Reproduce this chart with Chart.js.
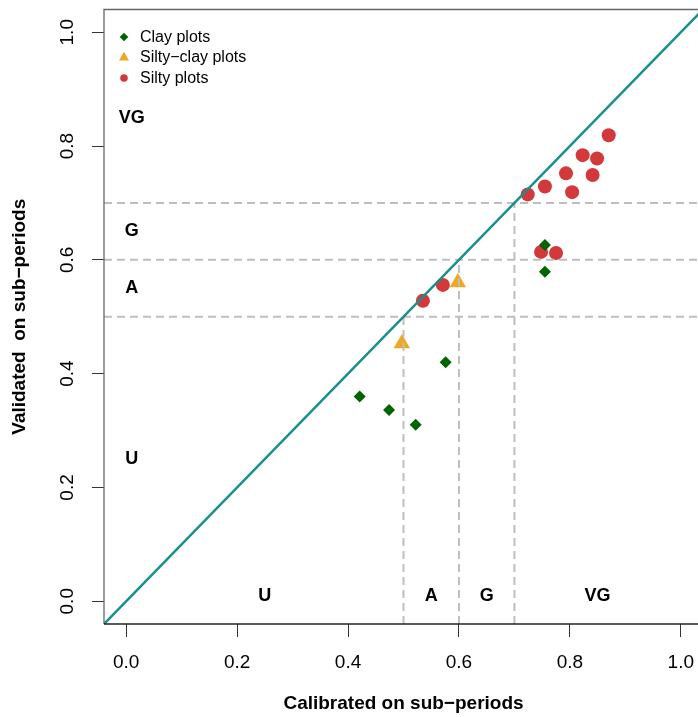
<!DOCTYPE html>
<html>
<head>
<meta charset="utf-8">
<script src="https://cdn.jsdelivr.net/npm/chart.js@4/dist/chart.umd.min.js"></script>
<style>
  html, body { margin: 0; padding: 0; overflow: hidden; background: #fff; }
  #wrap { width: 720px; height: 717px; }
</style>
</head>
<body>
<div id="wrap"><canvas id="myChart" width="720" height="717"></canvas></div>
<script>
// point data
const clayX = [0.421, 0.474, 0.522, 0.576, 0.755, 0.755];
const clayY = [0.360, 0.336, 0.310, 0.420, 0.626, 0.579];

const siltyClayX = [0.497, 0.598];
const siltyClayY = [0.453, 0.560];

const siltyX = [0.535, 0.571, 0.724, 0.755, 0.793, 0.804, 0.823, 0.849, 0.841, 0.870, 0.748, 0.775];
const siltyY = [0.528, 0.556, 0.715, 0.729, 0.752, 0.719, 0.784, 0.778, 0.749, 0.819, 0.614, 0.612];

// class thresholds and labels
const thresholds = [0.5, 0.6, 0.7];
const zoneNames = ["U", "A", "G", "VG"];
const zoneCenters = [0.25, 0.55, 0.65, 0.85];

const xTicks = [0, 0.2, 0.4, 0.6, 0.8, 1.0];
const yTicks = [0, 0.2, 0.4, 0.6, 0.8, 1.0];
const axisMin = -0.04;
const axisMax = 1.04;

const legendLabels = ["Clay plots", "Silty\u2212clay plots", "Silty plots"];

const FONT = "'Liberation Sans', Arial, sans-serif";
const GREEN = "#006400";
const ORANGE = "#EDA824";
const RED = "#D3383B";
const TEAL = "#17908C";
const DASH = "#BEBEBE";

const toPoints = (xs, ys) => xs.map((x, i) => ({ x: x, y: ys[i] }));

let datasets = [];

datasets.push({
  label: legendLabels[0],
  data: toPoints(clayX, clayY),
  pointStyle: "rectRot",
  pointRadius: 6,
  pointBackgroundColor: GREEN,
  pointBorderWidth: 0,
  order: 3,
});
datasets.push({
  label: legendLabels[1],
  data: toPoints(siltyClayX, siltyClayY),
  pointStyle: "triangle",
  pointRadius: 9.5,
  pointBackgroundColor: ORANGE,
  pointBorderWidth: 0,
  order: 3,
});
datasets.push({
  label: legendLabels[2],
  data: toPoints(siltyX, siltyY),
  pointStyle: "circle",
  pointRadius: 7,
  pointBackgroundColor: RED,
  pointBorderWidth: 0,
  order: 3,
});

// dashed threshold lines: horizontal across, vertical up to the 1:1 line
thresholds.forEach((t) => {
  datasets.push({
    label: "h" + t,
    data: [{ x: axisMin, y: t }, { x: axisMax, y: t }],
    showLine: true,
    pointRadius: 0,
    borderColor: DASH,
    borderWidth: 2,
    borderDash: [8, 5],
    order: 2,
  });
  datasets.push({
    label: "v" + t,
    data: [{ x: t, y: axisMin }, { x: t, y: t }],
    showLine: true,
    pointRadius: 0,
    borderColor: DASH,
    borderWidth: 2,
    borderDash: [8, 5],
    order: 2,
  });
});

// 1:1 line
datasets.push({
  label: "1:1",
  data: [{ x: axisMin, y: axisMin }, { x: axisMax, y: axisMax }],
  showLine: true,
  pointRadius: 0,
  borderColor: TEAL,
  borderWidth: 2.5,
  order: 1,
});

const framePlugin = {
  id: "frame",
  afterDraw(chart) {
    const ctx = chart.ctx;
    const { left, right, top, bottom } = chart.chartArea;
    ctx.save();
    ctx.lineWidth = 1.3;
    ctx.strokeStyle = "#666";
    ctx.beginPath();
    ctx.moveTo(right, top);
    ctx.lineTo(left, top);
    ctx.lineTo(left, bottom);
    ctx.stroke();
    ctx.strokeStyle = "#222";
    ctx.beginPath();
    ctx.moveTo(left, bottom);
    ctx.lineTo(right, bottom);
    ctx.stroke();
    ctx.restore();
  },
};

const zonePlugin = {
  id: "zones",
  afterDraw(chart) {
    const ctx = chart.ctx;
    const xs = chart.scales.x;
    const ys = chart.scales.y;
    ctx.save();
    ctx.fillStyle = "#000";
    ctx.font = "bold 18px " + FONT;
    ctx.textAlign = "center";
    ctx.textBaseline = "middle";
    zoneNames.forEach((name, i) => {
      // along the left edge (validated classes)
      ctx.fillText(name, xs.getPixelForValue(0.01), ys.getPixelForValue(zoneCenters[i]));
      // along the bottom edge (calibrated classes)
      ctx.fillText(name, xs.getPixelForValue(zoneCenters[i]), ys.getPixelForValue(0.01));
    });
    ctx.restore();
  },
};

const legendPlugin = {
  id: "cornerLegend",
  afterDraw(chart) {
    const ctx = chart.ctx;
    const { left, top } = chart.chartArea;
    const colors = [GREEN, ORANGE, RED];
    ctx.save();
    legendLabels.forEach((lab, i) => {
      const x = left + 20;
      const y = top + 27.5 + i * 20.5;
      ctx.fillStyle = colors[i];
      ctx.beginPath();
      if (i === 0) {
        ctx.moveTo(x, y - 4.3);
        ctx.lineTo(x + 4.3, y);
        ctx.lineTo(x, y + 4.3);
        ctx.lineTo(x - 4.3, y);
      } else if (i === 1) {
        ctx.moveTo(x, y - 5.8);
        ctx.lineTo(x + 5, y + 2.9);
        ctx.lineTo(x - 5, y + 2.9);
      } else {
        ctx.arc(x, y, 3.8, 0, Math.PI * 2);
      }
      ctx.closePath();
      ctx.fill();
      ctx.fillStyle = "#000";
      ctx.font = "16px " + FONT;
      ctx.textAlign = "left";
      ctx.textBaseline = "middle";
      ctx.fillText(lab, x + 16, y + 0.5);
    });
    ctx.restore();
  },
};

let ctx = document.getElementById("myChart").getContext("2d");

window.myChart = new Chart(ctx, {
  type: "scatter",
  data: { datasets: datasets },
  plugins: [framePlugin, zonePlugin, legendPlugin],
  options: {
    responsive: false,
    animation: false,
    layout: { padding: { top: 7, right: 17, left: 0, bottom: 0 } },
    plugins: {
      legend: { display: false },
      tooltip: { enabled: false },
    },
    scales: {
      x: {
        type: "linear",
        min: axisMin,
        max: axisMax,
        afterBuildTicks: (scale) => {
          scale.ticks = xTicks.map((v) => ({ value: v }));
        },
        afterFit: (scale) => {
          scale.height = 93;
          scale.paddingLeft = 0;
          scale.paddingRight = 0;
        },
        grid: {
          drawOnChartArea: false,
          drawTicks: true,
          tickLength: 13,
          tickColor: "#333",
          lineWidth: 1,
        },
        border: { display: false },
        ticks: {
          color: "#000",
          padding: 14,
          maxRotation: 0,
          font: { family: FONT, size: 19 },
          callback: (v) => Number(v).toFixed(1),
        },
        title: {
          display: true,
          text: "Calibrated on sub\u2212periods",
          color: "#000",
          padding: { top: 0, bottom: 2 },
          font: { family: FONT, size: 19, weight: "bold" },
        },
      },
      y: {
        type: "linear",
        min: axisMin,
        max: axisMax,
        afterBuildTicks: (scale) => {
          scale.ticks = yTicks.map((v) => ({ value: v }));
        },
        afterFit: (scale) => {
          scale.width = 104;
          scale.paddingTop = 0;
          scale.paddingBottom = 0;
        },
        grid: {
          drawOnChartArea: false,
          drawTicks: true,
          tickLength: 12,
          tickColor: "#333",
          lineWidth: 1,
        },
        border: { display: false },
        ticks: {
          color: "#000",
          padding: 11,
          minRotation: 90,
          maxRotation: 90,
          crossAlign: "center",
          font: { family: FONT, size: 19 },
          callback: (v) => Number(v).toFixed(1),
        },
        title: {
          display: true,
          text: "Validated  on sub\u2212periods",
          color: "#000",
          padding: { top: 8, bottom: 0 },
          font: { family: FONT, size: 19, weight: "bold" },
        },
      },
    },
  },
});
</script>
</body>
</html>
